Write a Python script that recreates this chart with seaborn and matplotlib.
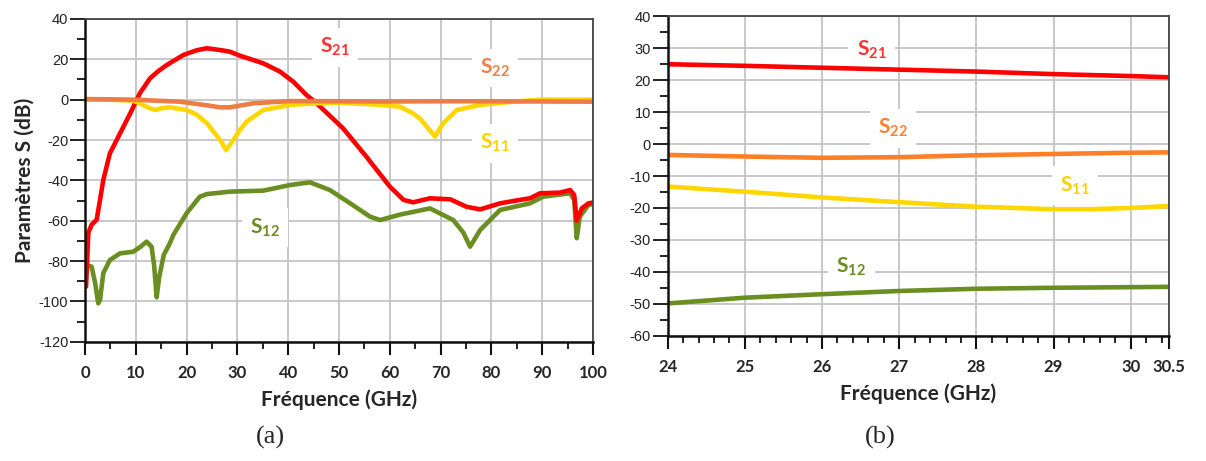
import numpy as np
import matplotlib.pyplot as plt
import matplotlib.ticker as mticker
import seaborn as sns

# ---- donnees (a) : 0-100 GHz ----
a_s21_f = [0.2, 0.65, 1.3, 2.3, 2.95, 3.6, 4.9, 6.9, 8.9, 10.8, 12.8, 14.5, 16.1, 19.4, 22.0, 24.0,
           26.6, 28.5, 30.5, 35.1, 38.4, 41.0, 43.6, 45.6, 50.8, 55.4, 60.0, 62.7, 64.6, 67.9,
           71.9, 75.1, 77.8, 81.7, 85.6, 87.6, 89.6, 93.5, 95.5, 96.3, 96.8, 97.8, 99.1, 100.0]
a_s21_db = [-92.7, -66, -62, -59.5, -49.7, -39.8, -26.6, -16.7, -6.8, 3.2, 10.6, 14.3, 17.2, 22.2, 24.5, 25.5,
            24.6, 23.8, 21.8, 18.0, 13.9, 8.9, 2.3, -1.8, -14.2, -28.3, -43.1, -49.7, -50.9, -48.9,
            -49.4, -53.1, -54.4, -51.4, -49.7, -48.9, -46.4, -46.1, -44.8, -47.3, -60.0, -53.9, -51.4, -51.0]

a_s12_f = [0.2, 1.3, 2.0, 2.6, 2.95, 3.6, 4.9, 6.9, 9.5, 11.0, 12.1, 13.1, 13.6, 14.1, 14.6, 15.5, 16.7,
           17.4, 20.0, 22.6, 24.0, 28.5, 35.1, 40.4, 44.3, 48.2, 52.2, 56.1, 58.1, 62.0, 67.9,
           72.5, 74.5, 75.8, 77.8, 81.7, 87.6, 90.2, 95.5, 96.3, 96.8, 97.4, 99.1, 100.0]
a_s12_db = [-82, -82.8, -91, -101, -99.3, -86, -79.5, -76.2, -75.4, -72.8, -70.4, -72.9, -82, -98, -88, -77, -71.2,
            -67, -56.3, -48.1, -46.8, -45.6, -45.1, -42.3, -41.0, -44.8, -51.4, -58.0, -59.7, -57.0, -53.9,
            -59.7, -66, -72.9, -64.6, -54.7, -51.4, -48.1, -46.4, -49.7, -68.7, -58.0, -52.2, -51.8]

a_s11_f = [0, 5, 9.5, 10.8, 12.5, 13.8, 15, 16.7, 20, 22, 24, 26.6, 27.8, 29.2, 30.5, 31.8, 35.1,
           40.4, 45.6, 50, 58, 62, 64.6, 66, 67.3, 68.9, 70.5, 73.2, 77.8, 84.3, 89.6, 100]
a_s11_db = [0, 0, -0.5, -1.8, -4.0, -5.1, -4.3, -3.8, -5.1, -7.5, -11.7, -20, -25, -20, -15, -10.9, -5.1,
            -2.6, -1.8, -1.5, -2.5, -3.5, -6.8, -9.5, -13.4, -18.3, -11.7, -5.1, -2.6, -1.0, 0, 0]

a_s22_f = [0, 9.5, 18.7, 24, 26.6, 28.5, 33.1, 35.1, 40.4, 50, 60, 70, 80, 90, 100]
a_s22_db = [0.3, 0, -1.0, -2.8, -3.8, -3.8, -1.8, -1.5, -0.7, -0.8, -0.9, -0.8, -0.8, -0.9, -1.0]

# ---- donnees (b) : 24-30.5 GHz ----
b_f = [24, 25, 26, 27, 28, 29, 29.5, 30, 30.5]
b_s21 = [25.0, 24.5, 23.9, 23.3, 22.7, 21.9, 21.6, 21.3, 20.9]
b_s22 = [-3.4, -3.9, -4.3, -4.1, -3.5, -3.1, -2.9, -2.7, -2.6]
b_s11 = [-13.3, -14.9, -16.7, -18.2, -19.6, -20.4, -20.4, -20.0, -19.4]
b_s12 = [-49.9, -48.1, -47.0, -46.0, -45.3, -45.0, -44.9, -44.8, -44.7]

a_xticks = [0, 10, 20, 30, 40, 50, 60, 70, 80, 90, 100]
a_yticks = [40, 20, 0, -20, -40, -60, -80, -100, -120]
b_xticks = [24, 25, 26, 27, 28, 29, 30, 30.5]
b_xlabels = ['24', '25', '26', '27', '28', '29', '30', '30.5']
b_yticks = [40, 30, 20, 10, 0, -10, -20, -30, -40, -50, -60]

RED = '#FF0000'
YEL = '#FFD700'
GRN = '#6B8E23'
LW = 3.3

sns.set_style("white")
plt.rcParams['font.family'] = ['Liberation Sans', 'DejaVu Sans']
plt.rcParams['axes.unicode_minus'] = False
plt.rcParams['mathtext.fontset'] = 'custom'
plt.rcParams['mathtext.bf'] = 'Lato:bold'
plt.rcParams['mathtext.rm'] = 'Lato'

fig = plt.figure(figsize=(12.06, 4.61), dpi=100)
ax1 = fig.add_axes([0.0705, 0.2588, 0.4212, 0.7000])
ax2 = fig.add_axes([0.5536, 0.2718, 0.4160, 0.6928])


def style_axes(ax, xmin, xmax, ymin, ymax, xminor, yminor):
    ax.set_xlim(xmin, xmax)
    ax.set_ylim(ymin, ymax)
    ax.xaxis.set_minor_locator(mticker.MultipleLocator(xminor))
    ax.yaxis.set_minor_locator(mticker.MultipleLocator(yminor))
    ax.grid(True, which='major', color='#c4c4c4', lw=1.3)
    ax.set_axisbelow(True)
    for s in ['left', 'bottom']:
        ax.spines[s].set_color('#111111')
        ax.spines[s].set_linewidth(1.8)
    for s in ['top', 'right']:
        ax.spines[s].set_color('#444444')
        ax.spines[s].set_linewidth(1.3)
    ax.tick_params(axis='x', which='major', bottom=True, direction='out', length=9.5,
                   width=1.5, color='#111111', pad=7)
    ax.tick_params(axis='x', which='minor', bottom=True, direction='out', length=5,
                   width=1.3, color='#111111')
    ax.tick_params(axis='y', which='major', left=True, direction='out', length=11,
                   width=1.3, color='#111111', pad=1, labelsize=10.5, labelcolor='#222222')
    ax.tick_params(axis='y', which='minor', left=True, direction='out', length=5.5,
                   width=1.3, color='#111111')
    for lab in ax.get_yticklabels():
        lab.set_fontfamily('Liberation Sans')
    for lab in ax.get_xticklabels():
        lab.set_fontfamily('Lato')
        lab.set_fontweight('bold')
        lab.set_fontsize(12)
    ax.set_xlabel('Fréquence (GHz)', fontfamily='Lato', fontweight='bold', fontsize=15, labelpad=6)


def s_label(ax, x, y, txt, col):
    # boite blanche au-dessus de la grille, sous les courbes
    ax.text(x, y, r'$\mathbf{S_{%s}}$' % txt, color=col, fontsize=15, ha='center', va='center',
            bbox=dict(facecolor='white', edgecolor='none', pad=6), zorder=1.5)


# ---- panneau (a) ----
sns.lineplot(x=a_s12_f, y=a_s12_db, ax=ax1, color=GRN, lw=LW)
sns.lineplot(x=a_s21_f, y=a_s21_db, ax=ax1, color=RED, lw=LW)
sns.lineplot(x=a_s11_f, y=a_s11_db, ax=ax1, color=YEL, lw=LW)
sns.lineplot(x=a_s22_f, y=a_s22_db, ax=ax1, color='#ED7D45', lw=LW)
ax1.set_xticks(a_xticks)
ax1.set_yticks(a_yticks)
style_axes(ax1, 0, 100, -120, 40, 5, 10)
ax1.set_ylabel('Paramètres S (dB)', fontfamily='Lato', fontweight='bold', fontsize=15, labelpad=3)
s_label(ax1, 49.2, 26.1, '21', '#FF3333')
s_label(ax1, 80.7, 15.7, '22', '#F08048')
s_label(ax1, 80.7, -21.5, '11', '#FFD000')
s_label(ax1, 35.4, -63.6, '12', GRN)

# ---- panneau (b) ----
sns.lineplot(x=b_f, y=b_s21, ax=ax2, color=RED, lw=LW)
sns.lineplot(x=b_f, y=b_s22, ax=ax2, color='#FF7F27', lw=LW)
sns.lineplot(x=b_f, y=b_s11, ax=ax2, color=YEL, lw=LW)
sns.lineplot(x=b_f, y=b_s12, ax=ax2, color=GRN, lw=LW)
ax2.set_xticks(b_xticks)
ax2.set_xticklabels(b_xlabels)
ax2.set_yticks(b_yticks)
style_axes(ax2, 24, 30.5, -60, 40, 0.2, 5)
ax2.set_ylabel('')
s_label(ax2, 26.64, 29.6, '21', '#FF3333')
s_label(ax2, 26.92, 5.0, '22', '#FF8030')
s_label(ax2, 29.28, -13.1, '11', '#FFD000')
s_label(ax2, 26.38, -38.5, '12', GRN)

fig.text(270 / 1206, 1 - 437 / 461, '(a)', family='Liberation Serif', fontsize=19, ha='center', va='center')
fig.text(880 / 1206, 1 - 437 / 461, '(b)', family='Liberation Serif', fontsize=19, ha='center', va='center')

fig.savefig('out.png', dpi=100)
